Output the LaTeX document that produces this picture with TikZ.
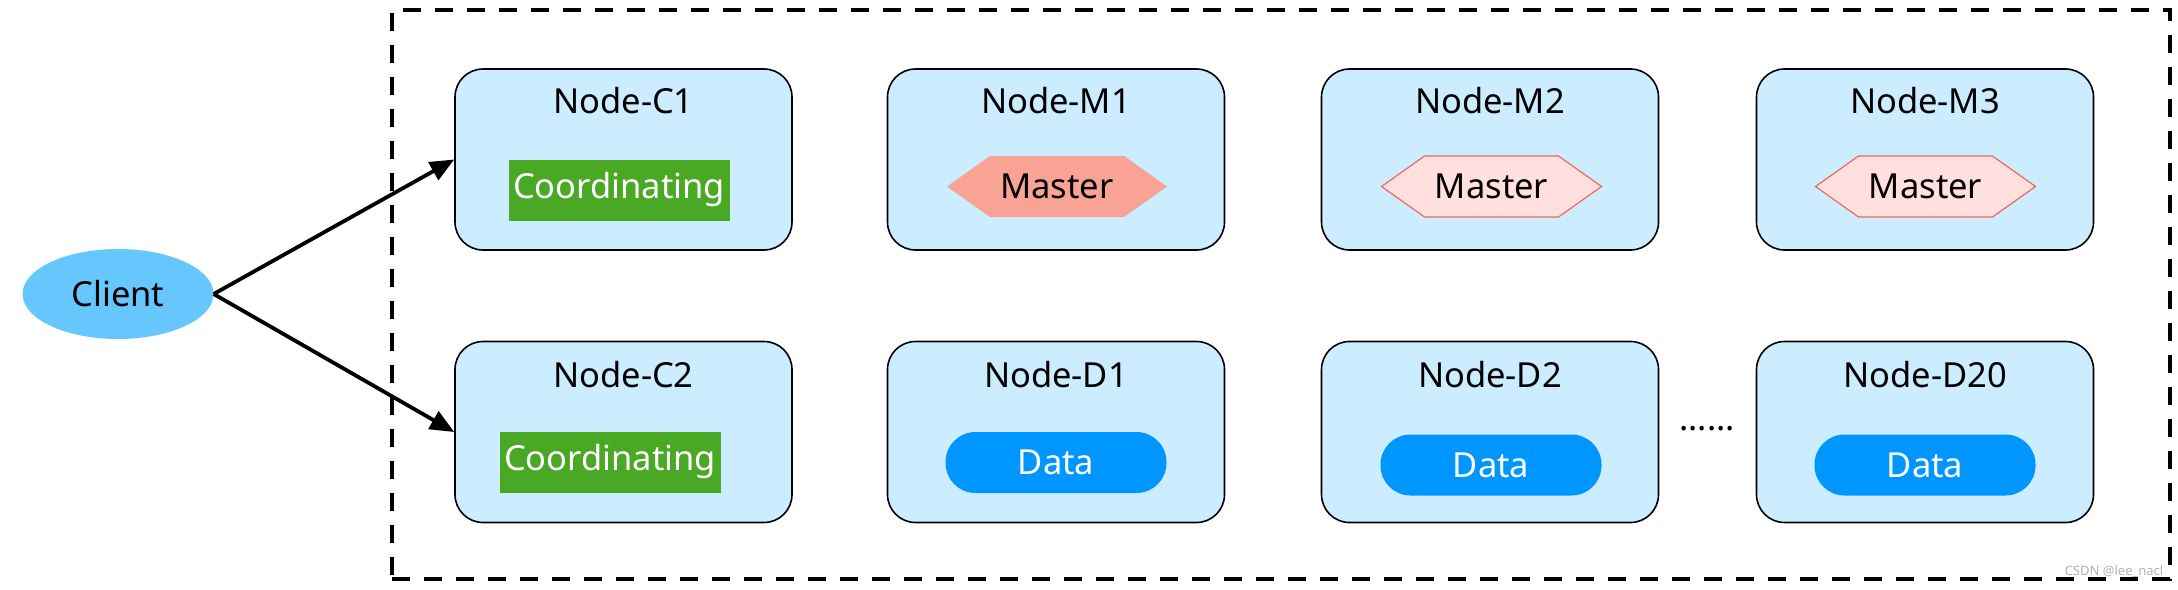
\documentclass[tikz,border=0pt]{standalone}
\usepackage{fontspec}
\setmainfont{Noto Sans}
\usetikzlibrary{arrows.meta,shapes.geometric}
\definecolor{boxblue}{RGB}{204,236,255}
\definecolor{coordgreen}{RGB}{73,168,36}
\definecolor{mastersalmon}{RGB}{249,163,148}
\definecolor{masterpale}{RGB}{255,224,222}
\definecolor{masterline}{RGB}{240,105,85}
\definecolor{datablue}{RGB}{0,150,255}
\definecolor{clientblue}{RGB}{102,199,255}
\tikzset{
  outerbox/.style={draw=black, line width=1.6pt, fill=boxblue, rounded corners=28pt,
    minimum width=337pt, minimum height=181pt, inner sep=0pt},
  titletext/.style={inner sep=0pt, text=black},
  coordbox/.style={fill=coordgreen, text=white, minimum width=221pt, minimum height=61pt, inner sep=0pt},
  mastertext/.style={inner sep=0pt, text=black, minimum width=220pt, minimum height=61pt},
  masteractive/.style={fill=mastersalmon, draw=none},
  masterpassive/.style={fill=masterpale, draw=masterline, line width=1.2pt},
  datapill/.style={fill=datablue, text=white, rounded corners=30pt, minimum width=221pt,
    minimum height=61pt, inner sep=0pt},
  clientshape/.style={ellipse, fill=clientblue, minimum width=191pt, minimum height=90pt, inner sep=0pt},
  clusterbox/.style={draw=black, line width=4pt, dash pattern=on 18pt off 14pt,
    minimum width=1778pt, minimum height=569pt, inner sep=0pt},
  link/.style={draw=black, line width=3.8pt, -{Triangle[length=24pt,width=20pt]}},
}
\newcommand{\hexpath}[1]{([shift={(-110,0)}]#1) -- ([shift={(-67,-30.5)}]#1) -- ([shift={(67,-30.5)}]#1)
  -- ([shift={(110,0)}]#1) -- ([shift={(67,30.5)}]#1) -- ([shift={(-67,30.5)}]#1) -- cycle}
\begin{document}
\begin{tikzpicture}[x=1pt, y=-1pt, font=\fontsize{34.5}{40}\selectfont]
\useasboundingbox (0,0) rectangle (2178,589);

\node[clusterbox] (cluster) at (1281,294.5) {};

% boxes row 1
\node[outerbox] (c1) at (623.5,159.5) {};
\node[outerbox] (m1) at (1056,159.5) {};
\node[outerbox] (m2) at (1490,159.5) {};
\node[outerbox] (m3) at (1925,159.5) {};
% boxes row 2
\node[outerbox] (c2) at (623.5,432) {};
\node[outerbox] (d1) at (1056,432) {};
\node[outerbox] (d2) at (1490,432) {};
\node[outerbox] (d20) at (1925,432) {};

% titles
\node[titletext] (tc1) at (623.5,101) {Node-C1};
\node[titletext] (tm1) at (1056,101) {Node-M1};
\node[titletext] (tm2) at (1490,101) {Node-M2};
\node[titletext] (tm3) at (1925,101) {Node-M3};
\node[titletext] (tc2) at (623.5,375) {Node-C2};
\node[titletext] (td1) at (1056,375) {Node-D1};
\node[titletext] (td2) at (1490,375) {Node-D2};
\node[titletext] (td20) at (1925,375) {Node-D20};

% inner roles
\node[coordbox] (co1) at (619,190) {Coordinating};
\node[coordbox] (co2) at (610,462) {Coordinating};

\coordinate (h1) at (1057,186.5);
\coordinate (h2) at (1491.5,186.5);
\coordinate (h3) at (1925.5,186.5);
\path[masteractive] \hexpath{h1};
\path[masterpassive] \hexpath{h2};
\path[masterpassive] \hexpath{h3};
\node[mastertext] (ma1) at (h1) {Master};
\node[mastertext] (ma2) at (h2) {Master};
\node[mastertext] (ma3) at (h3) {Master};

\node[datapill] (da1) at (1056,462.5) {Data};
\node[datapill] (da2) at (1491,465) {Data};
\node[datapill] (da3) at (1925,465) {Data};

\node[titletext] (dots) at (1707,429) {......};

% client
\node[clientshape] (client) at (118,294) {Client};

\draw[link] (client.east) -- (c1.west);
\draw[link] (client.east) -- (c2.west);

\node[text=black!30, font=\fontsize{13}{15}\selectfont, inner sep=0pt] (wm) at (2114,572) {CSDN @lee\_nacl};
\end{tikzpicture}
\end{document}
